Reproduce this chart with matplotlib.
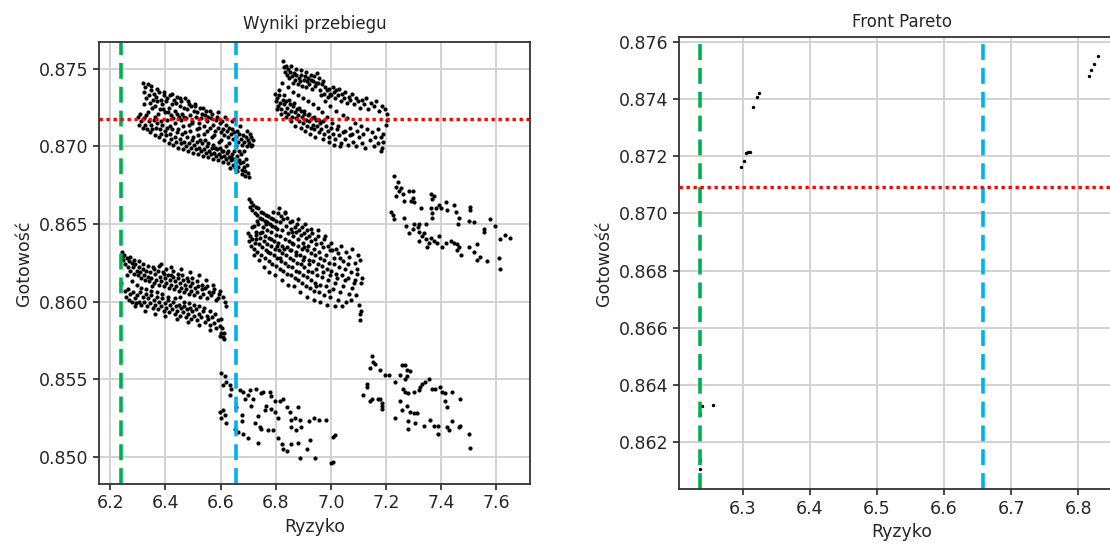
import matplotlib
matplotlib.use('Agg')
import matplotlib.pyplot as plt

# wyniki przebiegu - punkty (Ryzyko, Gotowosc)
klaster_a1 = [(6.318,0.8741),(6.322,0.8735),(6.327,0.8738),(6.331,0.8731),(6.335,0.8740),(6.340,0.8733),(6.344,0.8728),(6.349,0.8736),(6.353,0.8730),(6.358,0.8734),
              (6.362,0.8726),(6.367,0.8732),(6.371,0.8729),(6.376,0.8735),(6.380,0.8724),(6.385,0.8730),(6.389,0.8727),(6.394,0.8733),(6.398,0.8722),(6.403,0.8729),
              (6.407,0.8731),(6.412,0.8725),(6.416,0.8733),(6.421,0.8720),(6.425,0.8727),(6.430,0.8730),(6.434,0.8723),(6.439,0.8728),(6.443,0.8732),(6.448,0.8719),
              (6.452,0.8726),(6.457,0.8729),(6.461,0.8721),(6.466,0.8725),(6.470,0.8731),(6.475,0.8718),(6.479,0.8724),(6.484,0.8727),(6.488,0.8720),(6.493,0.8726),
              (6.497,0.8716),(6.502,0.8723),(6.506,0.8726),(6.511,0.8719),(6.515,0.8722),(6.520,0.8715),(6.524,0.8725),(6.529,0.8718),(6.533,0.8721),(6.538,0.8713),
              (6.542,0.8720),(6.547,0.8723),(6.551,0.8716),(6.556,0.8719),(6.560,0.8712),(6.565,0.8718),(6.569,0.8721),(6.574,0.8714),(6.578,0.8710),(6.583,0.8717),
              (6.587,0.8719),(6.592,0.8712),(6.596,0.8715),(6.601,0.8709),(6.605,0.8716),(6.610,0.8711),(6.614,0.8707),(6.619,0.8714),(6.623,0.8710),(6.628,0.8706),
              (6.632,0.8712),(6.637,0.8708),(6.641,0.8711),(6.646,0.8705),(6.650,0.8709),(6.655,0.8706),(6.659,0.8710),(6.664,0.8703),(6.668,0.8708),(6.673,0.8705),
              (6.677,0.8701),(6.682,0.8707),(6.686,0.8703),(6.691,0.8706),(6.695,0.8700),(6.700,0.8704),(6.704,0.8702),(6.709,0.8706),(6.713,0.8701),(6.718,0.8704)]
klaster_a2 = [(6.301,0.8719),(6.305,0.8714),(6.309,0.8721),(6.313,0.8716),(6.317,0.8712),(6.321,0.8718),(6.325,0.8714),(6.330,0.8720),(6.334,0.8711),(6.339,0.8716),
              (6.343,0.8709),(6.348,0.8714),(6.352,0.8711),(6.357,0.8717),(6.361,0.8707),(6.366,0.8712),(6.370,0.8715),(6.375,0.8706),(6.379,0.8711),(6.384,0.8708),
              (6.388,0.8714),(6.393,0.8704),(6.397,0.8710),(6.402,0.8707),(6.406,0.8712),(6.411,0.8702),(6.415,0.8708),(6.420,0.8705),(6.424,0.8711),(6.429,0.8701),
              (6.433,0.8706),(6.438,0.8703),(6.442,0.8709),(6.447,0.8699),(6.451,0.8705),(6.456,0.8702),(6.460,0.8708),(6.465,0.8698),(6.469,0.8703),(6.474,0.8700),
              (6.478,0.8706),(6.483,0.8697),(6.487,0.8702),(6.492,0.8699),(6.496,0.8704),(6.501,0.8696),(6.505,0.8701),(6.510,0.8698),(6.514,0.8703),(6.519,0.8695),
              (6.523,0.8699),(6.528,0.8697),(6.532,0.8702),(6.537,0.8694),(6.541,0.8698),(6.546,0.8696),(6.550,0.8700),(6.555,0.8693),(6.559,0.8697),(6.564,0.8695),
              (6.568,0.8699),(6.573,0.8692),(6.577,0.8696),(6.582,0.8694),(6.586,0.8698),(6.591,0.8691),(6.595,0.8695),(6.600,0.8693),(6.604,0.8697),(6.609,0.8690),
              (6.613,0.8694),(6.618,0.8692),(6.622,0.8696),(6.627,0.8689),(6.631,0.8693),(6.636,0.8691),(6.640,0.8695),(6.645,0.8688),(6.649,0.8692),(6.654,0.8690),
              (6.658,0.8694),(6.663,0.8687),(6.667,0.8691),(6.672,0.8689),(6.676,0.8685),(6.681,0.8690),(6.685,0.8687),(6.690,0.8684),(6.694,0.8688),(6.698,0.8683)]
klaster_a3 = [(6.323,0.8727),(6.336,0.8722),(6.347,0.8739),(6.352,0.8725),(6.361,0.8719),(6.369,0.8737),(6.373,0.8721),(6.382,0.8716),(6.391,0.8724),(6.396,0.8735),
              (6.404,0.8717),(6.409,0.8722),(6.418,0.8713),(6.423,0.8734),(6.427,0.8718),(6.436,0.8715),(6.441,0.8721),(6.445,0.8711),(6.454,0.8731),(6.458,0.8717),
              (6.463,0.8713),(6.468,0.8719),(6.472,0.8709),(6.481,0.8729),(6.486,0.8714),(6.490,0.8710),(6.495,0.8715),(6.500,0.8706),(6.508,0.8727),(6.513,0.8711),
              (6.517,0.8707),(6.522,0.8712),(6.527,0.8704),(6.535,0.8725),(6.540,0.8708),(6.544,0.8704),(6.549,0.8710),(6.553,0.8702),(6.562,0.8723),(6.567,0.8706),
              (6.571,0.8701),(6.576,0.8707),(6.580,0.8699),(6.589,0.8722),(6.594,0.8703),(6.598,0.8699),(6.603,0.8704),(6.607,0.8697),(6.616,0.8719),(6.621,0.8700),
              (6.625,0.8697),(6.630,0.8702),(6.634,0.8686),(6.643,0.8716),(6.648,0.8697),(6.652,0.8686),(6.657,0.8700),(6.661,0.8684),(6.670,0.8713),(6.675,0.8695),
              (6.679,0.8682),(6.684,0.8697),(6.688,0.8681),(6.697,0.8710),(6.702,0.8680),(6.706,0.8708),(6.711,0.8700),(6.693,0.8692),(6.666,0.8697),(6.639,0.8693)]
klaster_b1 = [(6.826,0.8755),(6.829,0.8751),(6.833,0.8748),(6.837,0.8752),(6.841,0.8746),(6.845,0.8750),(6.849,0.8744),(6.853,0.8748),(6.858,0.8745),(6.862,0.8741),
              (6.866,0.8747),(6.870,0.8743),(6.875,0.8746),(6.879,0.8740),(6.883,0.8744),(6.888,0.8742),(6.892,0.8746),(6.896,0.8739),(6.901,0.8743),(6.905,0.8745),
              (6.909,0.8738),(6.914,0.8742),(6.918,0.8744),(6.922,0.8740),(6.927,0.8746),(6.931,0.8737),(6.935,0.8742),(6.940,0.8745),(6.944,0.8739),(6.948,0.8747),
              (6.953,0.8741),(6.957,0.8744),(6.961,0.8736),(6.966,0.8740),(6.970,0.8742),(6.975,0.8734),(6.979,0.8738),(6.984,0.8736),(6.988,0.8732),(6.993,0.8737),
              (6.997,0.8734),(7.002,0.8733),(7.006,0.8738),(7.011,0.8735),(7.015,0.8731),(7.020,0.8736),(7.025,0.8733),(7.030,0.8737),(7.035,0.8729),(7.040,0.8734),
              (7.046,0.8731),(7.052,0.8735),(7.058,0.8728),(7.064,0.8732),(7.070,0.8730),(7.077,0.8734),(7.084,0.8727),(7.091,0.8731),(7.098,0.8729),(7.105,0.8725),
              (7.112,0.8730),(7.120,0.8727),(7.128,0.8731),(7.136,0.8724),(7.145,0.8728),(7.155,0.8726),(7.165,0.8729),(7.175,0.8723),(7.185,0.8726),(7.196,0.8724),
              (7.203,0.8721)]
klaster_b2 = [(6.797,0.8734),(6.800,0.8729),(6.804,0.8731),(6.808,0.8726),(6.812,0.8733),(6.816,0.8728),(6.820,0.8724),(6.825,0.8730),(6.829,0.8727),(6.833,0.8722),
              (6.838,0.8729),(6.842,0.8725),(6.846,0.8721),(6.851,0.8727),(6.855,0.8723),(6.860,0.8719),(6.864,0.8726),(6.868,0.8722),(6.873,0.8718),(6.877,0.8724),
              (6.882,0.8720),(6.886,0.8716),(6.891,0.8723),(6.895,0.8719),(6.900,0.8715),(6.904,0.8721),(6.909,0.8717),(6.913,0.8713),(6.918,0.8720),(6.922,0.8716),
              (6.927,0.8712),(6.931,0.8718),(6.936,0.8714),(6.940,0.8711),(6.945,0.8717),(6.950,0.8713),(6.955,0.8709),(6.960,0.8715),(6.965,0.8711),(6.970,0.8716),
              (6.976,0.8708),(6.982,0.8713),(6.988,0.8710),(6.994,0.8706),(7.000,0.8712),(7.007,0.8708),(7.014,0.8705),(7.021,0.8711),(7.028,0.8707),(7.036,0.8702),
              (7.044,0.8709),(7.052,0.8705),(7.061,0.8701),(7.070,0.8707),(7.080,0.8703),(7.090,0.8700),(7.100,0.8706),(7.112,0.8702),(7.125,0.8699),(7.140,0.8704),
              (7.155,0.8700),(7.170,0.8702),(7.180,0.8697),(7.185,0.8699),(7.190,0.8703),(7.183,0.8706)]
klaster_b3 = [(6.803,0.8724),(6.811,0.8736),(6.818,0.8721),(6.824,0.8741),(6.831,0.8733),(6.836,0.8719),(6.843,0.8738),(6.848,0.8730),(6.854,0.8716),(6.857,0.8752),
              (6.861,0.8735),(6.867,0.8728),(6.871,0.8713),(6.874,0.8750),(6.880,0.8733),(6.885,0.8725),(6.890,0.8712),(6.893,0.8749),(6.898,0.8731),(6.903,0.8723),
              (6.907,0.8710),(6.911,0.8748),(6.916,0.8729),(6.921,0.8721),(6.925,0.8708),(6.929,0.8743),(6.934,0.8727),(6.939,0.8719),(6.943,0.8706),(6.947,0.8741),
              (6.952,0.8725),(6.956,0.8717),(6.963,0.8733),(6.968,0.8722),(6.973,0.8705),(6.978,0.8729),(6.985,0.8719),(6.992,0.8703),(6.998,0.8726),(7.004,0.8715),
              (7.012,0.8701),(7.018,0.8723),(7.027,0.8713),(7.033,0.8700),(7.042,0.8720),(7.050,0.8710),(7.060,0.8718),(7.068,0.8712),(7.075,0.8708),(7.086,0.8715),
              (7.095,0.8710),(7.108,0.8713),(7.118,0.8708),(7.130,0.8711),(7.148,0.8709),(7.160,0.8706),(7.172,0.8711),(7.188,0.8708),(7.198,0.8714),(7.205,0.8717)]
klaster_c1 = [(6.242,0.8632),(6.246,0.8627),(6.250,0.8630),(6.255,0.8624),(6.259,0.8628),(6.264,0.8622),(6.268,0.8626),(6.273,0.8620),(6.277,0.8625),(6.282,0.8622),
              (6.286,0.8618),(6.291,0.8624),(6.295,0.8620),(6.300,0.8617),(6.304,0.8622),(6.309,0.8619),(6.313,0.8615),(6.318,0.8621),(6.322,0.8617),(6.327,0.8614),
              (6.331,0.8620),(6.336,0.8616),(6.340,0.8613),(6.345,0.8619),(6.349,0.8615),(6.354,0.8622),(6.358,0.8612),(6.363,0.8618),(6.367,0.8614),(6.372,0.8620),
              (6.376,0.8611),(6.381,0.8616),(6.385,0.8613),(6.390,0.8619),(6.394,0.8610),(6.399,0.8615),(6.403,0.8612),(6.408,0.8617),(6.412,0.8609),(6.417,0.8614),
              (6.421,0.8611),(6.426,0.8616),(6.430,0.8608),(6.435,0.8613),(6.439,0.8610),(6.444,0.8615),(6.448,0.8607),(6.453,0.8612),(6.457,0.8609),(6.462,0.8614),
              (6.466,0.8606),(6.471,0.8611),(6.475,0.8608),(6.480,0.8613),(6.484,0.8605),(6.489,0.8610),(6.493,0.8607),(6.498,0.8612),(6.503,0.8604),(6.508,0.8609),
              (6.513,0.8606),(6.519,0.8610),(6.525,0.8603),(6.531,0.8608),(6.537,0.8605),(6.544,0.8609),(6.551,0.8602),(6.558,0.8606),(6.566,0.8604),(6.575,0.8608),
              (6.585,0.8601),(6.595,0.8605),(6.607,0.8603),(6.615,0.8600),(6.620,0.8597),(6.240,0.8612),(6.241,0.8629)]
klaster_c2 = [(6.253,0.8607),(6.258,0.8603),(6.263,0.8608),(6.268,0.8601),(6.273,0.8605),(6.278,0.8600),(6.283,0.8606),(6.288,0.8602),(6.293,0.8599),(6.298,0.8604),
              (6.303,0.8600),(6.308,0.8606),(6.313,0.8598),(6.318,0.8603),(6.323,0.8600),(6.328,0.8605),(6.333,0.8597),(6.338,0.8602),(6.343,0.8599),(6.348,0.8604),
              (6.353,0.8596),(6.358,0.8601),(6.363,0.8598),(6.368,0.8603),(6.373,0.8595),(6.378,0.8600),(6.383,0.8597),(6.388,0.8602),(6.393,0.8594),(6.398,0.8599),
              (6.403,0.8596),(6.408,0.8601),(6.413,0.8593),(6.418,0.8598),(6.423,0.8595),(6.428,0.8600),(6.433,0.8592),(6.438,0.8597),(6.443,0.8594),(6.448,0.8598),
              (6.453,0.8591),(6.458,0.8596),(6.463,0.8593),(6.468,0.8597),(6.473,0.8590),(6.478,0.8595),(6.483,0.8592),(6.488,0.8596),(6.493,0.8589),(6.498,0.8594),
              (6.504,0.8591),(6.510,0.8595),(6.516,0.8588),(6.522,0.8592),(6.528,0.8590),(6.535,0.8594),(6.542,0.8587),(6.549,0.8591),(6.556,0.8589),(6.563,0.8585),
              (6.570,0.8590),(6.577,0.8586),(6.584,0.8583),(6.590,0.8588),(6.596,0.8584),(6.601,0.8580),(6.605,0.8583),(6.609,0.8577),(6.612,0.8580),(6.614,0.8576)]
klaster_c3 = [(6.262,0.8617),(6.271,0.8629),(6.279,0.8613),(6.287,0.8627),(6.296,0.8611),(6.305,0.8626),(6.311,0.8609),(6.320,0.8624),(6.329,0.8608),(6.338,0.8623),
              (6.346,0.8607),(6.352,0.8610),(6.360,0.8621),(6.369,0.8606),(6.378,0.8623),(6.387,0.8605),(6.395,0.8618),(6.402,0.8621),(6.410,0.8603),(6.419,0.8617),
              (6.428,0.8620),(6.436,0.8602),(6.445,0.8618),(6.451,0.8603),(6.460,0.8617),(6.469,0.8600),(6.478,0.8615),(6.486,0.8599),(6.496,0.8615),(6.505,0.8598),
              (6.515,0.8613),(6.523,0.8597),(6.533,0.8611),(6.541,0.8596),(6.552,0.8610),(6.560,0.8594),(6.571,0.8606),(6.580,0.8592),(6.590,0.8602),(6.600,0.8589),
              (6.382,0.8624),(6.420,0.8622),(6.458,0.8621),(6.490,0.8619),(6.520,0.8617),(6.548,0.8614),(6.572,0.8611),(6.596,0.8607),
              (6.290,0.8597),(6.325,0.8594),(6.362,0.8592),(6.400,0.8591),(6.440,0.8589),(6.480,0.8587),(6.520,0.8585),(6.560,0.8582),(6.598,0.8578)]
klaster_d1 = [(6.702,0.8666),(6.706,0.8661),(6.710,0.8664),(6.715,0.8659),(6.719,0.8662),(6.724,0.8657),(6.728,0.8661),(6.733,0.8656),(6.737,0.8660),(6.742,0.8654),
              (6.746,0.8658),(6.751,0.8653),(6.755,0.8657),(6.760,0.8652),(6.764,0.8656),(6.769,0.8651),(6.773,0.8655),(6.778,0.8650),(6.782,0.8654),(6.787,0.8649),
              (6.791,0.8653),(6.796,0.8648),(6.800,0.8652),(6.805,0.8647),(6.809,0.8657),(6.814,0.8651),(6.818,0.8655),(6.823,0.8646),(6.827,0.8653),(6.832,0.8658),
              (6.836,0.8649),(6.841,0.8654),(6.845,0.8644),(6.850,0.8651),(6.854,0.8647),(6.859,0.8652),(6.863,0.8642),(6.868,0.8648),(6.872,0.8645),(6.877,0.8650),
              (6.881,0.8640),(6.886,0.8646),(6.890,0.8643),(6.895,0.8648),(6.899,0.8638),(6.904,0.8644),(6.908,0.8641),(6.913,0.8646),(6.917,0.8636),(6.922,0.8642),
              (6.927,0.8639),(6.932,0.8644),(6.937,0.8634),(6.942,0.8640),(6.947,0.8637),(6.952,0.8642),(6.958,0.8632),(6.964,0.8638),(6.970,0.8635),(6.976,0.8640),
              (6.982,0.8630),(6.988,0.8636),(6.995,0.8633),(7.002,0.8638),(7.010,0.8628),(7.018,0.8634),(7.026,0.8631),(7.035,0.8636),(7.045,0.8626),(7.055,0.8632),
              (7.065,0.8629),(7.077,0.8634),(7.088,0.8625),(7.098,0.8630),(7.105,0.8627)]
klaster_d2 = [(6.698,0.8644),(6.702,0.8639),(6.706,0.8642),(6.711,0.8636),(6.715,0.8640),(6.720,0.8634),(6.724,0.8638),(6.729,0.8643),(6.733,0.8632),(6.738,0.8637),
              (6.742,0.8641),(6.747,0.8630),(6.751,0.8635),(6.756,0.8639),(6.760,0.8628),(6.765,0.8633),(6.769,0.8637),(6.774,0.8626),(6.778,0.8631),(6.783,0.8636),
              (6.787,0.8624),(6.792,0.8630),(6.796,0.8634),(6.801,0.8623),(6.805,0.8628),(6.810,0.8633),(6.814,0.8621),(6.819,0.8626),(6.823,0.8631),(6.828,0.8620),
              (6.832,0.8625),(6.837,0.8630),(6.841,0.8618),(6.846,0.8623),(6.850,0.8628),(6.855,0.8617),(6.859,0.8622),(6.864,0.8627),(6.868,0.8615),(6.873,0.8620),
              (6.877,0.8625),(6.882,0.8614),(6.886,0.8619),(6.891,0.8624),(6.895,0.8612),(6.900,0.8617),(6.904,0.8622),(6.909,0.8610),(6.913,0.8616),(6.918,0.8620),
              (6.923,0.8609),(6.928,0.8614),(6.933,0.8619),(6.938,0.8607),(6.944,0.8612),(6.950,0.8617),(6.956,0.8606),(6.962,0.8611),(6.968,0.8616),(6.975,0.8604),
              (6.982,0.8610),(6.990,0.8614),(6.998,0.8603),(7.006,0.8608),(7.015,0.8612),(7.024,0.8601),(7.034,0.8606),(7.044,0.8610),(7.055,0.8600),(7.066,0.8605),
              (7.078,0.8609),(7.090,0.8604),(7.100,0.8598),(7.104,0.8592),(7.106,0.8588),(7.109,0.8594),(7.112,0.8615),(7.108,0.8612)]
klaster_d3 = [(6.720,0.8649),(6.728,0.8645),(6.736,0.8650),(6.744,0.8644),(6.752,0.8648),(6.760,0.8642),(6.768,0.8646),(6.776,0.8641),(6.784,0.8645),(6.792,0.8639),
              (6.800,0.8643),(6.808,0.8638),(6.816,0.8642),(6.824,0.8636),(6.832,0.8640),(6.840,0.8635),(6.848,0.8639),(6.856,0.8633),(6.864,0.8637),(6.872,0.8632),
              (6.880,0.8636),(6.888,0.8630),(6.896,0.8634),(6.904,0.8629),(6.912,0.8633),(6.920,0.8627),(6.928,0.8631),(6.936,0.8626),(6.944,0.8630),(6.952,0.8624),
              (6.960,0.8628),(6.968,0.8623),(6.976,0.8627),(6.984,0.8621),(6.992,0.8625),(7.000,0.8620),(7.010,0.8624),(7.020,0.8618),(7.030,0.8622),(7.040,0.8617),
              (7.050,0.8621),(7.062,0.8615),(7.074,0.8619),(7.086,0.8614),(7.095,0.8618)]
klaster_d4 = [(6.713,0.8648),(6.722,0.8630),(6.731,0.8652),(6.740,0.8627),(6.749,0.8645),(6.757,0.8622),(6.766,0.8650),(6.775,0.8619),(6.783,0.8640),(6.790,0.8658),
              (6.798,0.8617),(6.806,0.8636),(6.813,0.8660),(6.821,0.8614),(6.829,0.8634),(6.835,0.8657),(6.843,0.8611),(6.851,0.8633),(6.858,0.8645),(6.866,0.8610),
              (6.874,0.8630),(6.881,0.8653),(6.889,0.8606),(6.897,0.8627),(6.905,0.8650),(6.912,0.8603),(6.921,0.8624),(6.929,0.8647),(6.937,0.8601),(6.945,0.8621),
              (6.953,0.8646),(6.961,0.8600),(6.970,0.8619),(6.979,0.8642),(6.987,0.8598),(6.996,0.8617),(7.005,0.8633),(7.014,0.8597),(7.023,0.8615),(7.032,0.8628),
              (7.041,0.8597),(7.052,0.8614),(7.063,0.8624),(7.074,0.8601),(7.085,0.8612),(7.096,0.8621),(6.727,0.8640),(6.771,0.8632),(6.815,0.8628),(6.860,0.8638),
              (6.902,0.8635),(6.947,0.8610),(6.992,0.8607)]
klaster_e = [(7.230,0.8681),(7.242,0.8677),(7.236,0.8674),(7.248,0.8671),(7.260,0.8669),(7.254,0.8673),(7.284,0.8671),(7.296,0.8671),(7.296,0.8667),(7.302,0.8664),
             (7.290,0.8665),(7.326,0.8660),(7.362,0.8669),(7.368,0.8666),(7.374,0.8668),(7.362,0.8660),(7.380,0.8660),(7.398,0.8660),(7.416,0.8664),(7.422,0.8659),
             (7.446,0.8662),(7.454,0.8658),(7.368,0.8657),(7.218,0.8658),(7.224,0.8656),(7.230,0.8653),(7.266,0.8654),(7.302,0.8650),(7.320,0.8650),(7.344,0.8650),
             (7.368,0.8654),(7.284,0.8644),(7.314,0.8648),(7.320,0.8645),(7.338,0.8644),(7.320,0.8639),(7.344,0.8640),(7.356,0.8638),(7.350,0.8635),(7.374,0.8639),
             (7.392,0.8642),(7.404,0.8635),(7.416,0.8638),(7.434,0.8639),(7.446,0.8638),(7.458,0.8637),(7.464,0.8635),(7.470,0.8630),(7.458,0.8633),(7.464,0.8654),
             (7.462,0.8650),(7.500,0.8652),(7.506,0.8661),(7.506,0.8659),(7.518,0.8651),(7.500,0.8635),(7.518,0.8632),(7.530,0.8637),(7.542,0.8629),(7.530,0.8627),
             (7.566,0.8626),(7.554,0.8645),(7.554,0.8647),(7.578,0.8653),(7.596,0.8649),(7.608,0.8628),(7.614,0.8621),(7.614,0.8640),(7.632,0.8643),(7.650,0.8641),
             (7.272,0.8649),(7.296,0.8647),(7.392,0.8662),(7.236,0.8668),(7.266,0.8665),(7.386,0.8638),(7.332,0.8642),(7.362,0.8641)]
klaster_f = [(6.602,0.8554),(6.615,0.8552),(6.621,0.8548),(6.609,0.8546),(6.633,0.8546),(6.639,0.8544),(6.633,0.8540),(6.596,0.8529),(6.609,0.8530),(6.615,0.8527),
             (6.603,0.8525),(6.621,0.8522),(6.651,0.8518),(6.664,0.8516),(6.682,0.8515),(6.676,0.8523),(6.700,0.8512),(6.736,0.8509),(6.669,0.8543),(6.682,0.8542),
             (6.705,0.8543),(6.700,0.8540),(6.718,0.8537),(6.711,0.8533),(6.730,0.8544),(6.748,0.8541),(6.754,0.8542),(6.778,0.8542),(6.784,0.8539),(6.796,0.8536),
             (6.815,0.8536),(6.827,0.8537),(6.766,0.8533),(6.760,0.8530),(6.736,0.8526),(6.724,0.8522),(6.748,0.8518),(6.772,0.8517),(6.790,0.8517),(6.809,0.8512),
             (6.821,0.8508),(6.839,0.8504),(6.827,0.8505),(6.854,0.8508),(6.881,0.8509),(6.887,0.8499),(6.912,0.8505),(6.942,0.8499),(6.839,0.8532),(6.851,0.8529),
             (6.869,0.8525),(6.881,0.8532),(6.887,0.8524),(6.893,0.8519),(6.920,0.8523),(6.939,0.8525),(6.957,0.8524),(6.981,0.8524),(6.857,0.8519),(6.796,0.8529),
             (6.809,0.8525),(6.784,0.8531),(6.857,0.8524),(6.924,0.8511),(6.875,0.8517),(7.015,0.8514),(7.008,0.8513),(7.002,0.8496),(7.006,0.8497),(6.657,0.8532),
             (6.687,0.8537),(6.742,0.8519),(6.676,0.8527)]
klaster_g = [(7.148,0.8565),(7.154,0.8561),(7.160,0.8560),(7.142,0.8557),(7.178,0.8556),(7.196,0.8553),(7.209,0.8553),(7.130,0.8547),(7.130,0.8545),(7.118,0.8540),
             (7.142,0.8536),(7.148,0.8537),(7.178,0.8537),(7.184,0.8533),(7.184,0.8531),(7.233,0.8548),(7.251,0.8553),(7.257,0.8559),(7.269,0.8559),(7.275,0.8556),
             (7.287,0.8555),(7.275,0.8552),(7.269,0.8550),(7.263,0.8544),(7.269,0.8542),(7.281,0.8541),(7.300,0.8542),(7.318,0.8543),(7.330,0.8547),(7.342,0.8548),
             (7.354,0.8550),(7.324,0.8545),(7.366,0.8544),(7.378,0.8544),(7.396,0.8545),(7.402,0.8542),(7.415,0.8541),(7.439,0.8542),(7.415,0.8536),(7.421,0.8532),
             (7.469,0.8537),(7.251,0.8536),(7.257,0.8530),(7.275,0.8533),(7.287,0.8529),(7.300,0.8528),(7.312,0.8528),(7.281,0.8523),(7.281,0.8518),(7.233,0.8525),
             (7.305,0.8522),(7.336,0.8520),(7.360,0.8524),(7.372,0.8520),(7.390,0.8515),(7.390,0.8520),(7.421,0.8519),(7.427,0.8517),(7.439,0.8523),(7.463,0.8519),
             (7.469,0.8520),(7.499,0.8515),(7.505,0.8506),(7.172,0.8537),(7.184,0.8535)]

# front Pareto
pareto_ryzyko = [6.2367, 6.2367, 6.2367, 6.2387, 6.2555, 6.2979, 6.3020, 6.3042, 6.3079, 6.3110,
                 6.3152, 6.3210, 6.3250, 6.8154, 6.8194, 6.8234, 6.8300]
pareto_gotowosc = [0.86106, 0.86137, 0.86296, 0.86324, 0.86329, 0.87161, 0.87184, 0.87212, 0.87215, 0.87215,
                   0.87371, 0.87408, 0.87423, 0.87481, 0.87503, 0.87524, 0.87551]

# linie progowe
ryzyko_min = 6.237
ryzyko_prog = 6.655
gotowosc_prog_wyniki = 0.87176
gotowosc_prog_pareto = 0.87093

zielony = '#00b04f'
niebieski = '#00b0f0'
tekst = '#262626'

plt.rcParams['font.family'] = ['DejaVu Sans']
plt.rcParams['text.color'] = tekst
plt.rcParams['axes.labelcolor'] = tekst
plt.rcParams['xtick.color'] = tekst
plt.rcParams['ytick.color'] = tekst

fig = plt.figure(figsize=(11.1, 5.45), dpi=100)

klastry = [klaster_a1, klaster_a2, klaster_a3, klaster_b1, klaster_b2, klaster_b3,
           klaster_c1, klaster_c2, klaster_c3, klaster_d1, klaster_d2, klaster_d3, klaster_d4,
           klaster_e, klaster_f, klaster_g]
wyniki_x = [p[0] for k in klastry for p in k]
wyniki_y = [p[1] for k in klastry for p in k]


def linie(ax, x_prog):
    ax.axvline(ryzyko_min, color=zielony, linestyle='--', dashes=(4.4, 2.2), linewidth=2.6)
    ax.axvline(x_prog, color=niebieski, linestyle='--', dashes=(4.4, 2.2), linewidth=2.6)


def styl_osi(ax, tytul, pad):
    ax.set_axisbelow(True)
    ax.grid(True, color='#cfcfcf', linewidth=1.3)
    for s in ax.spines.values():
        s.set_linewidth(1.3)
        s.set_color('#333333')
    ax.tick_params(labelsize=12.5, width=1.2, length=4)
    ax.set_title(tytul, fontsize=12, pad=pad)
    ax.set_xlabel('Ryzyko', fontsize=12.5)
    ax.set_ylabel('Gotowość', fontsize=12.5)


ax1 = fig.add_axes([0.0892, 0.1119, 0.3883, 0.8119])
ax1.scatter(wyniki_x, wyniki_y, s=9, color='black', linewidths=0)
linie(ax1, ryzyko_prog)
ax1.axhline(gotowosc_prog_wyniki, color='red', linestyle=':', dashes=(1, 1.1), linewidth=2.4)
ax1.set_xlim(6.159, 7.722)
ax1.set_ylim(0.84825, 0.87675)
ax1.set_xticks([6.2, 6.4, 6.6, 6.8, 7.0, 7.2, 7.4, 7.6])
ax1.set_yticks([0.850, 0.855, 0.860, 0.865, 0.870, 0.875])
ax1.set_yticklabels(['0.850', '0.855', '0.860', '0.865', '0.870', '0.875'])
styl_osi(ax1, 'Wyniki przebiegu', 9)

ax2 = fig.add_axes([0.6117, 0.1022, 0.4021, 0.8305])
ax2.scatter(pareto_ryzyko, pareto_gotowosc, s=6, color='black', linewidths=0)
linie(ax2, 6.658)
ax2.axhline(gotowosc_prog_pareto, color='red', linestyle=':', dashes=(1, 1.1), linewidth=2.4)
ax2.set_xlim(6.2051, 6.87)
ax2.set_ylim(0.86034, 0.87619)
ax2.set_xticks([6.3, 6.4, 6.5, 6.6, 6.7, 6.8])
ax2.set_yticks([0.862, 0.864, 0.866, 0.868, 0.870, 0.872, 0.874, 0.876])
ax2.set_yticklabels(['0.862', '0.864', '0.866', '0.868', '0.870', '0.872', '0.874', '0.876'])
styl_osi(ax2, 'Front Pareto', 7)

fig.savefig('out.png', dpi=100)
